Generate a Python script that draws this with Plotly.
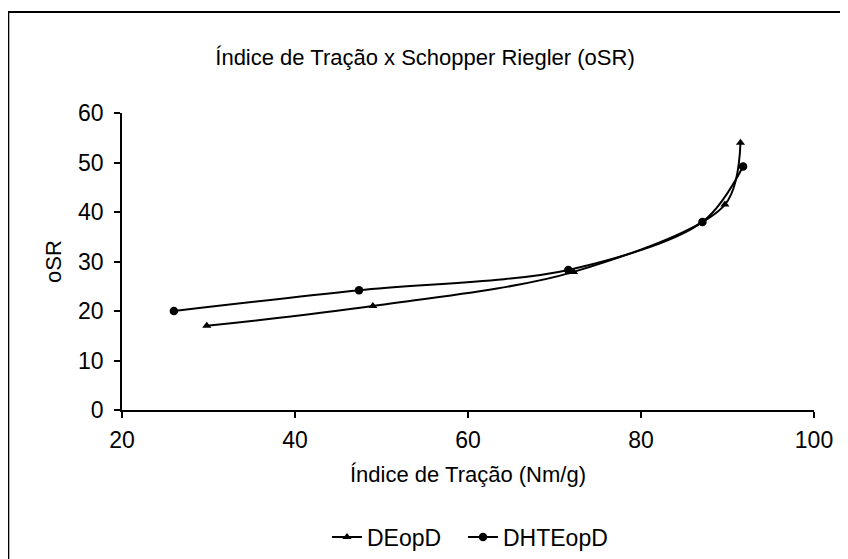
import plotly.graph_objects as go

# Data
de_x = [29.8, 49.0, 72.2, 89.7, 91.5]
de_y = [17.0, 21.0, 27.9, 41.5, 54.0]

dhte_x = [26.0, 47.4, 71.6, 87.1, 91.8]
dhte_y = [20.0, 24.2, 28.3, 38.0, 49.2]

x_ticks = [20, 40, 60, 80, 100]
y_ticks = [0, 10, 20, 30, 40, 50, 60]

FONT = "Liberation Sans, Arial, sans-serif"

fig = go.Figure()
fig.add_trace(go.Scatter(
    x=de_x, y=de_y, name="DEopD", mode="lines+markers", legend="legend",
    line=dict(color="black", width=2, shape="spline", smoothing=0.9),
    marker=dict(symbol="triangle-up", size=8, color="black"),
))
fig.add_trace(go.Scatter(
    x=dhte_x, y=dhte_y, name="DHTEopD", mode="lines+markers", legend="legend2",
    line=dict(color="black", width=2, shape="spline", smoothing=0.9),
    marker=dict(symbol="circle", size=8.5, color="black"),
))

# page has an 8px body margin, so the figure is drawn at (8, 8)
OFF = 8
W, H = 848 - OFF, 559 - OFF
L, R, T, B = 122 - OFF, 848 - 814, 113 - OFF, 559 - 410
pw, ph = W - L - R, H - T - B

def px_x(p):  # reference page pixel -> paper x
    return (p - OFF - L) / pw

def px_y(p):  # reference page pixel -> paper y
    return (H - B - (p - OFF)) / ph

legend_style = dict(orientation="h", yanchor="middle", xanchor="left",
                    font=dict(family=FONT, size=23, color="black"),
                    bgcolor="rgba(0,0,0,0)", itemwidth=30)

fig.update_layout(
    width=W, height=H,
    margin=dict(l=L, r=R, t=T, b=B, autoexpand=False),
    paper_bgcolor="white", plot_bgcolor="white",
    font=dict(family=FONT, size=22, color="black"),
    title=dict(text="Índice de Tração x Schopper Riegler (oSR)",
               xref="container", x=(425 - OFF) / W, xanchor="center",
               yref="container", y=1 - (57 - OFF) / H, yanchor="middle",
               font=dict(family=FONT, size=22, color="black")),
    xaxis=dict(range=[20, 100], tickvals=x_ticks, ticktext=[str(v) for v in x_ticks],
               showline=True, linecolor="black", linewidth=1.5,
               ticks="outside", ticklen=6, tickwidth=1.5, tickcolor="black",
               ticklabelstandoff=3,
               showgrid=False, zeroline=False,
               tickfont=dict(family=FONT, size=23, color="black"),
               title=dict(text="Índice de Tração (Nm/g)", standoff=14,
                          font=dict(family=FONT, size=22, color="black"))),
    yaxis=dict(range=[0, 60], tickvals=y_ticks, ticktext=[str(v) for v in y_ticks],
               showline=True, linecolor="black", linewidth=1.5,
               ticks="outside", ticklen=6, tickwidth=1.5, tickcolor="black",
               ticklabelstandoff=6,
               showgrid=False, zeroline=False,
               tickfont=dict(family=FONT, size=23, color="black"),
               title=dict(text="oSR", standoff=10,
                          font=dict(family=FONT, size=22, color="black"))),
    legend=dict(x=px_x(327), y=px_y(537), **legend_style),
    legend2=dict(x=px_x(463), y=px_y(537), **legend_style),
    showlegend=True,
)

# Outer chart border (right and bottom edges fall outside the view)
fig.add_shape(type="rect", xref="paper", yref="paper",
              x0=px_x(8.3), x1=px_x(870), y0=px_y(580), y1=px_y(12),
              line=dict(color="black", width=2), fillcolor="rgba(0,0,0,0)",
              layer="below")

fig.write_html("out.html")
